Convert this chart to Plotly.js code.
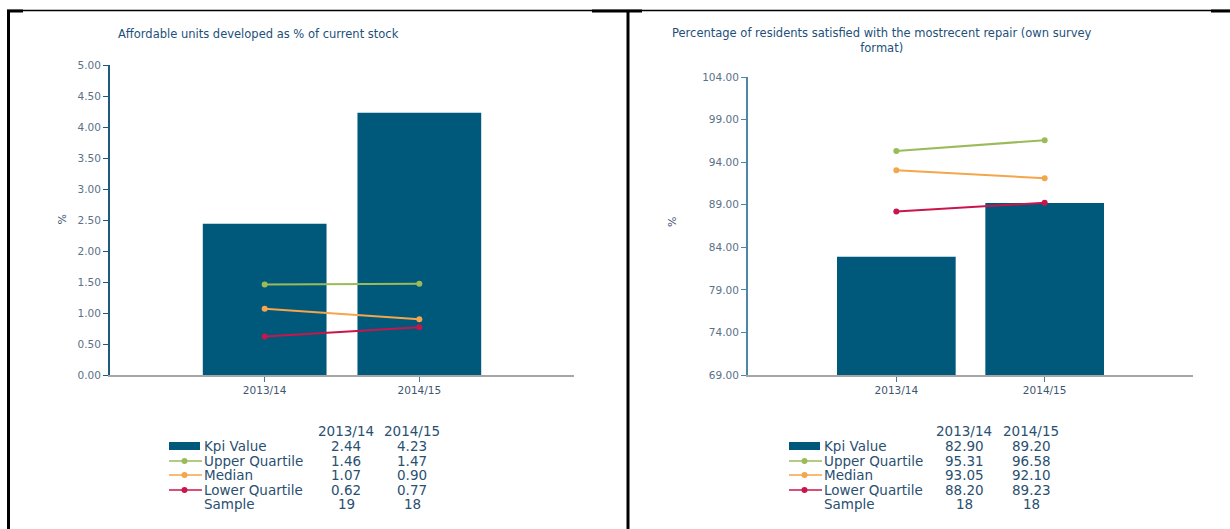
<!DOCTYPE html>
<html>
<head>
<meta charset="utf-8">
<script src="https://cdn.plot.ly/plotly-3.0.1.min.js"></script>
<style>html,body{margin:0;padding:0;background:#fff;}#chart{width:1230px;height:529px;}</style>
</head>
<body>
<div id="chart"></div>
<script>
// ---- data ----
const categories = ['2013/14', '2014/15'];
const seriesNames = ['Kpi Value', 'Upper Quartile', 'Median', 'Lower Quartile', 'Sample'];

const title1 = 'Affordable units developed as % of current stock';
const kpi1 = [2.44, 4.23];
const upper1 = [1.46, 1.47];
const median1 = [1.07, 0.90];
const lower1 = [0.62, 0.77];
const sample1 = [19, 18];
const yTicks1 = [0, 0.5, 1, 1.5, 2, 2.5, 3, 3.5, 4, 4.5, 5];

const title2 = 'Percentage of residents satisfied with the mostrecent repair (own survey<br>format)';
const kpi2 = [82.90, 89.20];
const upper2 = [95.31, 96.58];
const median2 = [93.05, 92.10];
const lower2 = [88.20, 89.23];
const sample2 = [18, 18];
const yTicks2 = [69, 74, 79, 84, 89, 94, 99, 104];

// ---- styles ----
const W = 1230, H = 529;
const FONT = 'DejaVu Sans, Verdana, sans-serif';
const colBar = '#00587a', colUpper = '#9bbb59', colMedian = '#f5a54a', colLower = '#c8164c';
const lineColors = [colUpper, colMedian, colLower];
const textCol = '#2a4f70', tickCol = '#5a7189';
const px = x => x / W;
const py = y => 1 - y / H;

function lineTrace(y, name, color, xa, ya) {
  return {type: 'scatter', mode: 'lines+markers', x: categories, y: y, name: name,
    xaxis: xa, yaxis: ya, line: {color: color, width: 2}, marker: {color: color, size: 6}, showlegend: false};
}

const traces = [
  {type: 'bar', x: categories, y: kpi1, name: seriesNames[0], marker: {color: colBar}, xaxis: 'x', yaxis: 'y', showlegend: false},
  lineTrace(upper1, seriesNames[1], colUpper, 'x', 'y'),
  lineTrace(median1, seriesNames[2], colMedian, 'x', 'y'),
  lineTrace(lower1, seriesNames[3], colLower, 'x', 'y'),
  {type: 'bar', x: categories, y: kpi2, name: seriesNames[0], marker: {color: colBar}, xaxis: 'x2', yaxis: 'y2', showlegend: false},
  lineTrace(upper2, seriesNames[1], colUpper, 'x2', 'y2'),
  lineTrace(median2, seriesNames[2], colMedian, 'x2', 'y2'),
  lineTrace(lower2, seriesNames[3], colLower, 'x2', 'y2')
];

function xAxis(domain, anchor) {
  return {domain: domain, anchor: anchor, type: 'category', range: [-1, 2], showgrid: false, zeroline: false,
    showline: true, linecolor: '#a6a6a6', linewidth: 1.5, ticks: 'outside', ticklen: 5, tickcolor: '#3f7a9a',
    tickfont: {family: FONT, size: 10.5, color: '#3d5670'}, fixedrange: true};
}
function yAxis(domain, anchor, ticks, range, lineCol) {
  return {domain: domain, anchor: anchor, range: range, tickvals: ticks, ticktext: ticks.map(v => v.toFixed(2)),
    showgrid: false, zeroline: false, showline: true, linecolor: lineCol, linewidth: 2, ticks: 'outside',
    ticklen: 5, tickcolor: lineCol, tickfont: {family: FONT, size: 10.5, color: tickCol}, fixedrange: true};
}

const annotations = [];
const shapes = [];

// titles
annotations.push({text: title1, x: px(258), y: py(34), xref: 'paper', yref: 'paper', showarrow: false,
  xanchor: 'center', yanchor: 'middle', font: {family: FONT, size: 11.5, color: '#22507a'}});
annotations.push({text: title2, x: px(882), y: py(41), xref: 'paper', yref: 'paper', showarrow: false,
  xanchor: 'center', yanchor: 'middle', font: {family: FONT, size: 11.5, color: '#22507a'}});
// y axis titles
[[53, 220], [672, 222]].forEach(p => annotations.push({text: '%', x: px(p[0]), y: py(p[1]), xref: 'paper', yref: 'paper',
  showarrow: false, textangle: -90, font: {family: FONT, size: 11, color: '#3d5670'}}));

// data tables under charts
const rowY = [446, 461, 475, 490, 504];
const headY = 431;
function table(swX0, swX1, labelX, colX, rows) {
  categories.forEach((c, j) => annotations.push({text: c, x: px(colX[j]), y: py(headY), xref: 'paper', yref: 'paper',
    showarrow: false, xanchor: 'center', yanchor: 'middle', font: {family: FONT, size: 13.5, color: textCol}}));
  rows.forEach((r, i) => {
    annotations.push({text: seriesNames[i], x: px(labelX), y: py(rowY[i]), xref: 'paper', yref: 'paper',
      showarrow: false, xanchor: 'left', yanchor: 'middle', xshift: -2, font: {family: FONT, size: 13.5, color: textCol}});
    r.vals.forEach((v, j) => annotations.push({text: r.fmt(v), x: px(colX[j]), y: py(rowY[i]), xref: 'paper', yref: 'paper',
      showarrow: false, xanchor: 'center', yanchor: 'middle', font: {family: FONT, size: 13.5, color: textCol}}));
  });
  // legend swatches
  shapes.push({type: 'rect', xref: 'paper', yref: 'paper', x0: px(swX0), x1: px(swX1 - 2), y0: py(rowY[0] - 4), y1: py(rowY[0] + 4),
    fillcolor: colBar, line: {width: 0}});
  lineColors.forEach((col, k) => {
    const yy = py(rowY[k + 1]);
    shapes.push({type: 'line', xref: 'paper', yref: 'paper', x0: px(swX0), x1: px(swX1), y0: yy, y1: yy, line: {color: col, width: 1.5}});
    const cx = (swX0 + swX1) / 2 - 1;
    shapes.push({type: 'circle', xref: 'paper', yref: 'paper', x0: px(cx - 3), x1: px(cx + 3), y0: py(rowY[k + 1] + 3), y1: py(rowY[k + 1] - 3),
      fillcolor: col, line: {width: 0}});
  });
}
const f2 = v => v.toFixed(2), f0 = v => String(v);
table(169, 202, 204, [346, 412], [
  {vals: kpi1, fmt: f2}, {vals: upper1, fmt: f2}, {vals: median1, fmt: f2}, {vals: lower1, fmt: f2}, {vals: sample1, fmt: f0}]);
table(789, 822, 824, [964, 1031], [
  {vals: kpi2, fmt: f2}, {vals: upper2, fmt: f2}, {vals: median2, fmt: f2}, {vals: lower2, fmt: f2}, {vals: sample2, fmt: f0}]);

// page frame
function ln(x0, y0, x1, y1, w) {
  shapes.push({type: 'line', xref: 'paper', yref: 'paper', x0: px(x0), x1: px(x1), y0: py(y0), y1: py(y1), line: {color: '#000', width: w}});
}
ln(7, 10.5, 1230, 10.5, 1.5);
ln(7, 11, 23, 11, 3);
ln(592, 11, 642, 11, 3);
ln(1211, 11, 1230, 11, 3);
ln(8.5, 10, 8.5, 529, 3);
ln(628, 10, 628, 529, 3);

const layout = {
  width: W, height: H, autosize: false,
  margin: {l: 0, r: 0, t: 0, b: 0},
  paper_bgcolor: '#fff', plot_bgcolor: '#fff',
  showlegend: false, bargap: 0.2,
  font: {family: FONT},
  xaxis: xAxis([px(110), px(574)], 'y'),
  yaxis: yAxis([py(375), py(65)], 'x', yTicks1, [0, 5], '#1d5a7e'),
  xaxis2: xAxis([px(748), px(1193)], 'y2'),
  yaxis2: yAxis([py(375), py(77)], 'x2', yTicks2, [69, 104], '#4a88a6'),
  annotations: annotations,
  shapes: shapes
};

Plotly.newPlot('chart', traces, layout, {displayModeBar: false, staticPlot: true});
</script>
</body>
</html>
